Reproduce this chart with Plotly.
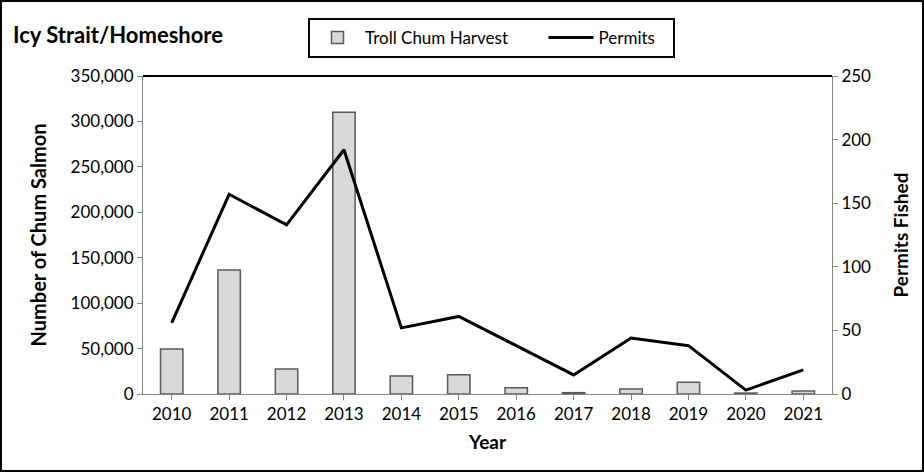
import plotly.graph_objects as go

# ── Data ─────────────────────────────────────────────────────────
years = ["2010", "2011", "2012", "2013", "2014", "2015",
         "2016", "2017", "2018", "2019", "2020", "2021"]
harvest = [49500, 136500, 27500, 310000, 19800, 21200,
           7000, 1500, 5500, 12900, 1000, 3300]
permits = [56, 157, 133, 192, 52, 61, 38, 15, 44, 38, 3, 19]

left_ticks = [0, 50000, 100000, 150000, 200000, 250000, 300000, 350000]
right_ticks = [0, 50, 100, 150, 200, 250]

FONT = "Lato"
AXIS_GREY = "#868686"
PAD = "\u00a0"

fig = go.Figure()
fig.add_trace(go.Bar(
    x=years, y=harvest, name="Troll Chum Harvest" + PAD * 7,
    marker=dict(color="#d9d9d9", line=dict(color="#595959", width=1.5)),
))
fig.add_trace(go.Scatter(
    x=years, y=permits, name="Permits" + PAD * 3, yaxis="y2", mode="lines",
    line=dict(color="black", width=3),
))

fig.update_layout(
    width=924, height=472,
    margin=dict(l=143, r=92, t=76, b=78, autoexpand=False),
    plot_bgcolor="white", paper_bgcolor="white",
    font=dict(family=FONT, size=17, color="black"),
    bargap=0.61,
    showlegend=True,
    legend=dict(
        orientation="h", x=(308 - 143) / 689, y=1 - 38 / 472,
        xref="paper", yref="container",
        xanchor="left", yanchor="middle",
        bordercolor="black", borderwidth=2, bgcolor="white",
        font=dict(size=17), itemwidth=45, traceorder="normal",
    ),
    xaxis=dict(
        showline=True, linecolor=AXIS_GREY, linewidth=1, automargin=False,
        ticks="outside", ticklen=5, tickcolor=AXIS_GREY,
        title=dict(text="<b>Year</b>", font=dict(size=19), standoff=12),
        tickfont=dict(size=17),
    ),
    yaxis=dict(
        range=[0, 350000], tickvals=left_ticks, automargin=False,
        tickformat=",", showline=True, linecolor=AXIS_GREY, linewidth=1,
        ticks="outside", ticklen=5, tickcolor=AXIS_GREY, showgrid=False,
        zeroline=False,
        title=dict(text="<b>Number of Chum Salmon</b>", font=dict(size=20), standoff=18),
        tickfont=dict(size=17),
    ),
    yaxis2=dict(
        range=[0, 250], tickvals=right_ticks, overlaying="y", side="right",
        showline=True, linecolor=AXIS_GREY, linewidth=1, automargin=False,
        ticks="outside", ticklen=5, tickcolor=AXIS_GREY, showgrid=False,
        zeroline=False,
        title=dict(text="<b>Permits Fished</b>", font=dict(size=19), standoff=24),
        tickfont=dict(size=17),
    ),
)

# title text, top plot border and outer frame
fig.add_annotation(
    text="<b>Icy Strait/Homeshore</b>", x=-132 / 689, y=1 + 41 / 318,
    xref="paper", yref="paper",
    xanchor="left", yanchor="middle", showarrow=False, font=dict(size=22),
)
fig.add_shape(type="line", xref="paper", yref="paper", x0=0, x1=1, y0=1, y1=1,
              line=dict(color="black", width=2))
fig.add_shape(type="rect", xref="paper", yref="paper",
              x0=-142 / 689, x1=1 + 91 / 689, y0=-77 / 318, y1=1 + 75 / 318,
              line=dict(color="black", width=2))

fig.write_html("out.html", config={"displayModeBar": False},
               post_script="document.body.style.margin='0';document.body.style.overflow='hidden';")
